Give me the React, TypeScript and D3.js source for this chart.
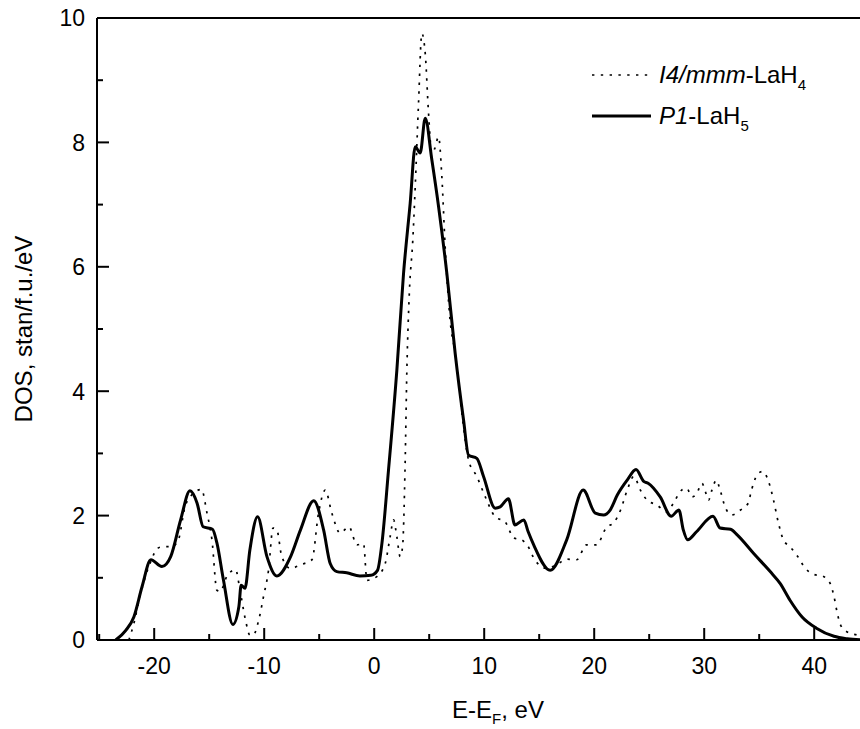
import React from "react";
import * as d3 from "d3";

const width = 860;
const height = 729;
const margin = { top: 18, left: 97, bottom: 89 };

// P1-LaH5 (solid)
const p1Energy = [
  -23.5, -22.6, -21.85, -21.1, -20.3, -19.3, -18.5, -17.6, -16.75, -16.1, -15.55, -14.7, -14.3, -13.7,
  -12.85, -12.3, -12.1, -11.75, -11.3, -10.6, -9.75, -8.85, -7.6, -6.7, -5.5, -4.6, -4.0, -3.4, -2.5,
  -1.3, -0.3, 0.3, 0.7, 1.3, 2.06, 2.67, 3.27, 3.73, 4.18, 4.64, 5.24, 5.85, 6.6, 7.36, 8.12, 8.58,
  9.33, 9.94, 11.0, 11.45, 12.2, 12.8, 13.6, 14.0, 14.5, 16.0, 17.5, 19.0, 20.1, 20.85, 21.45, 22.1,
  23.0, 23.8, 24.5, 24.9, 26.0, 27.0, 27.7, 28.1, 28.5, 29.3, 30.8, 31.45, 32.4, 33.0, 34.5, 36.0,
  36.9, 37.8, 38.9, 40.2, 41.8, 43.0, 44.5,
];
const p1Dos = [
  0, 0.15, 0.37, 0.86, 1.29, 1.18, 1.34, 1.93, 2.4, 2.2, 1.82, 1.78, 1.56, 0.96,
  0.25, 0.54, 0.88, 0.83, 1.45, 1.98, 1.34, 1.03, 1.34, 1.77, 2.24, 1.77, 1.23, 1.1, 1.08,
  1.03, 1.04, 1.12, 1.55, 2.73, 4.34, 5.9, 7.02, 7.93, 7.83, 8.39, 7.72, 6.97, 5.9, 4.61, 3.54, 2.97,
  2.92, 2.63, 2.12, 2.14, 2.27, 1.85, 1.93, 1.74, 1.53, 1.12, 1.61, 2.41, 2.04, 2.01, 2.09, 2.33,
  2.57, 2.74, 2.55, 2.52, 2.3, 1.99, 2.09, 1.77, 1.61, 1.74, 1.99, 1.8, 1.78, 1.69, 1.39, 1.1,
  0.91, 0.64, 0.37, 0.19, 0.06, 0.02, 0,
];

// I4/mmm-LaH4 (dotted)
const i4Energy = [
  -22.3, -21.8, -21.3, -20.8, -20.2, -19.75, -19.15, -18.4, -17.8, -17.2, -16.7, -15.7, -15.2, -14.75,
  -14.3, -14.0, -13.4, -12.6, -12.2, -11.7, -11.3, -11.0, -10.5, -10.06, -9.6, -9.2, -8.85, -8.4, -7.6,
  -6.7, -5.66, -5.06, -4.45, -3.85, -3.1, -2.3, -1.57, -0.97, -0.66, 0.24, 1.0, 1.45, 1.76, 2.06, 2.36,
  2.58, 2.8, 2.97, 3.2, 3.5, 3.73, 4.03, 4.33, 4.64, 4.94, 5.24, 5.5, 5.85, 6.15, 6.45, 6.9, 7.36, 7.97,
  8.58, 9.33, 10.1, 11.0, 11.9, 12.7, 13.4, 14.0, 14.6, 15.7, 16.75, 17.5, 18.4, 19.3, 20.2, 21.15,
  21.75, 22.4, 23.0, 23.6, 24.2, 24.8, 25.7, 26.6, 27.2, 27.95, 28.4, 28.9, 29.3, 29.8, 30.1, 30.4,
  30.7, 31.1, 31.45, 31.9, 32.5, 33.3, 34.0, 34.3, 34.8, 35.3, 35.85, 36.3, 36.75, 37.2, 37.8, 38.4,
  39.2, 39.9, 40.85, 41.45, 41.8, 42.1, 42.4, 43.0, 43.9, 44.5,
];
const i4Dos = [
  0, 0.3, 0.7, 1.02, 1.31, 1.47, 1.5, 1.5, 1.61, 2.14, 2.31, 2.42, 2.04, 1.61,
  0.8, 0.78, 1.02, 1.13, 0.8, 0.32, 0.08, 0.08, 0.32, 0.7, 1.13, 1.8, 1.77, 1.34, 1.15,
  1.21, 1.29, 2.04, 2.41, 2.04, 1.72, 1.82, 1.53, 1.55, 0.96, 1.02, 1.23, 1.66, 1.93, 1.66, 1.34,
  1.5, 2.73, 4.34, 5.6, 6.4, 7.29, 8.63, 9.75, 9.43, 8.47, 7.83, 7.9, 8.09, 7.45, 6.32, 5.14, 4.61, 3.64,
  2.89, 2.63, 2.3, 1.98, 1.9, 1.64, 1.61, 1.5, 1.29, 1.15, 1.23, 1.3, 1.29, 1.53, 1.53, 1.82,
  1.88, 2.09, 2.41, 2.63, 2.41, 2.25, 2.17, 2.06, 2.2, 2.41, 2.44, 2.3, 2.35, 2.52, 2.39, 2.25,
  2.41, 2.57, 2.41, 2.14, 2.01, 2.09, 2.2, 2.41, 2.65, 2.71, 2.55, 2.25, 1.88, 1.61, 1.5, 1.37,
  1.15, 1.06, 1.02, 0.91, 0.7, 0.43, 0.24, 0.13, 0.08, 0.05,
];

const xMajor = [-20, -10, 0, 10, 20, 30, 40];
const xMinor = [-25, -15, -5, 5, 15, 25, 35];
const yMajor = [0, 2, 4, 6, 8, 10];
const yMinor = [1, 3, 5, 7, 9];

const font = "'Liberation Sans', Arial, sans-serif";
const dots = "2.4,6.4";

export default function App() {
  const x = d3.scaleLinear().domain([-25.2, 45]).range([margin.left, margin.left + 70.2 * 11]);
  const y = d3.scaleLinear().domain([0, 10]).range([height - margin.bottom, margin.top]);
  const x0 = margin.left;
  const y0 = y(0);

  const line = d3
    .line<[number, number]>()
    .x(d => x(d[0]))
    .y(d => y(d[1]))
    .curve(d3.curveMonotoneX);

  const p1 = p1Energy.map((e, i) => [e, p1Dos[i]] as [number, number]);
  const i4 = i4Energy.map((e, i) => [e, i4Dos[i]] as [number, number]);

  return (
    <svg
      width={width}
      height={height}
      style={{ position: "absolute", left: 0, top: 0, background: "#fff" }}
      fontFamily={font}
    >
      <defs>
        <clipPath id="plot">
          <rect x={x0} y={margin.top} width={width - x0} height={y0 - margin.top} />
        </clipPath>
      </defs>

      <g clipPath="url(#plot)">
        <path d={line(i4) || ""} fill="none" stroke="#000" strokeWidth={1.7} strokeDasharray={dots} />
        <path d={line(p1) || ""} fill="none" stroke="#000" strokeWidth={3} strokeLinejoin="round" />
      </g>

      {/* axes frame */}
      <line x1={x0} x2={width} y1={y0} y2={y0} stroke="#000" strokeWidth={2} />
      <line x1={x0} x2={width} y1={margin.top} y2={margin.top} stroke="#000" strokeWidth={2} />
      <line x1={x0} x2={x0} y1={margin.top} y2={y0} stroke="#000" strokeWidth={2} />

      {xMajor.map(t => (
        <g key={"xM" + t}>
          <line x1={x(t)} x2={x(t)} y1={y0} y2={y0 - 12} stroke="#000" strokeWidth={2} />
          <text x={x(t)} y={y0 + 34} textAnchor="middle" fontSize={23}>
            {t}
          </text>
        </g>
      ))}
      {xMinor.map(t => (
        <line key={"xm" + t} x1={x(t)} x2={x(t)} y1={y0} y2={y0 - 6} stroke="#000" strokeWidth={2} />
      ))}
      {yMajor.map(t => (
        <g key={"yM" + t}>
          <line x1={x0} x2={x0 + 12} y1={y(t)} y2={y(t)} stroke="#000" strokeWidth={2} />
          <text x={x0 - 12} y={y(t) + 8.3} textAnchor="end" fontSize={23}>
            {t}
          </text>
        </g>
      ))}
      {yMinor.map(t => (
        <line key={"ym" + t} x1={x0} x2={x0 + 6} y1={y(t)} y2={y(t)} stroke="#000" strokeWidth={2} />
      ))}

      <text transform={`translate(32,${(margin.top + y0) / 2}) rotate(-90)`} textAnchor="middle" fontSize={24}>
        DOS, stan/f.u./eV
      </text>
      <text x={498} y={718} textAnchor="middle" fontSize={24}>
        E-E
        <tspan fontSize={15} dy={6}>F</tspan>
        <tspan dy={-6}>, eV</tspan>
      </text>

      {/* legend */}
      <line x1={592} x2={650} y1={75} y2={75} stroke="#000" strokeWidth={1.7} strokeDasharray={dots} />
      <text x={659} y={83} fontSize={24}>
        <tspan fontStyle="italic">I4/mmm</tspan>-LaH
        <tspan fontSize={15} dy={7}>4</tspan>
      </text>
      <line x1={592} x2={651} y1={116} y2={116} stroke="#000" strokeWidth={3} />
      <text x={659} y={124} fontSize={24}>
        <tspan fontStyle="italic">P1</tspan>-LaH
        <tspan fontSize={15} dy={7}>5</tspan>
      </text>
    </svg>
  );
}
